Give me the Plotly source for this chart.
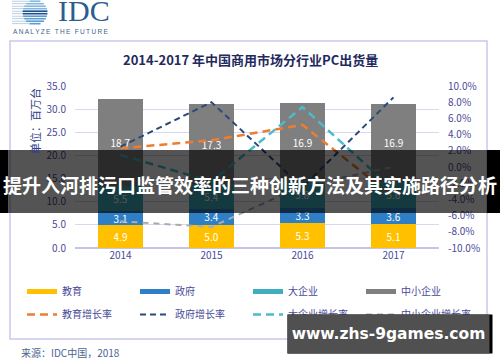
import math
import plotly.graph_objects as go

# ---------------- data ----------------
years = ['2014', '2015', '2016', '2017']
edu = [4.9, 5.0, 5.3, 5.1]
gov = [3.1, 3.4, 3.3, 3.6]
large = [5.5, 5.4, 5.8, 5.6]
sme = [18.7, 17.3, 16.9, 16.9]

edu_growth = [2.3, 3.3, 5.2, -3.7]
gov_growth = [2.5, 8.0, -2.5, 8.6]
large_growth = [1.5, -1.8, 7.4, -2.8]
sme_growth = [-6.7, -7.4, -2.3, 0.0]

left_tick_vals = [0, 5, 10, 15, 20, 25, 30, 35]
right_tick_vals = [10, 8, 6, 4, 2, 0, -2, -4, -6, -8, -10]
right_tick_labels = ['10.0%', '8.0%', '6.0%', '4.0%', '2.0%', '0.0%',
                     '-2.0%', '-4.0%', '-6.0%', '-8.0%', '-10.0%']

bar_names = ['教育', '政府', '大企业', '中小企业']
line_names = ['教育增长率', '政府增长率', '大企业增长率', '中小企业增长率']

# ---------------- style ----------------
W, H = 500, 362
L, R, T, B = 75, 61, 86, 114
PW, PH = W - L - R, H - T - B
PLOT_BOTTOM = H - B

def PX(x):
    return (x - L) / PW

def PY(y):
    return (PLOT_BOTTOM - y) / PH

FONT = 'Noto Sans CJK SC'
TICK_COLOR = '#4A4A9A'
bar_colors = ['#FFC000', '#2E7FC6', '#3FAFC0', '#7F7F7F']
line_colors = ['#ED7D31', '#2B4A7C', '#4BBCCB', '#ABABAB']
line_dash = ['8px,5px', '6px,4px', '8px,5px', '6px,5px']
line_width = [2.5, 2, 2.5, 2]

fig = go.Figure()

for name, vals, col in zip(bar_names, [edu, gov, large, sme], bar_colors):
    fig.add_trace(go.Bar(
        x=years, y=vals, name=name, marker=dict(color=col, line=dict(width=0)),
        texttemplate='%{y:.1f}', textposition='inside', insidetextanchor='middle',
        textangle=0, constraintext='none',
        textfont=dict(color='white', size=10, family=FONT),
        showlegend=False, hoverinfo='skip'))

legend_ids = ['legend', 'legend2', 'legend3', 'legend4']

# legend swatches for bars (row 1)
for i, (name, col) in enumerate(zip(bar_names, bar_colors)):
    fig.add_trace(go.Scatter(
        x=[None], y=[None], mode='lines', name=name,
        line=dict(color=col, width=5), legend=legend_ids[i],
        legendgroup='a%d' % i, showlegend=True, hoverinfo='skip'))

# growth lines (row 2)
for i, (name, vals) in enumerate(zip(line_names, [edu_growth, gov_growth, large_growth, sme_growth])):
    fig.add_trace(go.Scatter(
        x=years, y=vals, yaxis='y2', mode='lines', name=name,
        line=dict(color=line_colors[i], width=line_width[i], dash=line_dash[i]),
        legend=legend_ids[i], legendgroup='b%d' % i, hoverinfo='skip'))

legend_base = dict(orientation='v', xanchor='left', yanchor='top',
                   y=PY(277), tracegroupgap=4, itemwidth=30,
                   bgcolor='rgba(0,0,0,0)', borderwidth=0,
                   font=dict(family=FONT, size=10, color=TICK_COLOR))
legends = {}
for i, lid in enumerate(legend_ids):
    d = dict(legend_base)
    d['x'] = PX(22 + 113 * i)
    legends[lid] = d

shapes = []
# chart frame
shapes.append(dict(type='rect', xref='paper', yref='paper',
                   x0=PX(10), x1=PX(487), y0=PY(339), y1=PY(41),
                   line=dict(color='#C9C9EE', width=1.5), layer='below'))

# IDC globe logo (decorative stripes)
cx, cy, r = 35.0, 12.5, 12.5
for k in range(10):
    yy = 1.2 + k * 2.5
    dy = yy - cy
    half = math.sqrt(max(r * r - dy * dy, 0))
    if 4 <= k <= 5:
        col = '#1E4F8E'
    elif k < 4:
        col = '#86B7DE'
    else:
        col = '#5E9CD2'
    shapes.append(dict(type='rect', xref='paper', yref='paper',
                       x0=PX(cx - half), x1=PX(cx + half),
                       y0=PY(yy + 0.8), y1=PY(yy - 0.8),
                       fillcolor=col, line=dict(width=0), layer='above'))
    shapes.append(dict(type='rect', xref='paper', yref='paper',
                       x0=PX(12), x1=PX(cx - half),
                       y0=PY(yy + 0.4), y1=PY(yy - 0.4),
                       fillcolor='#A9C3DA', line=dict(width=0), layer='above'))

# banner overlay
shapes.append(dict(type='rect', xref='paper', yref='paper',
                   x0=PX(8), x1=PX(487), y0=PY(213), y1=PY(150),
                   fillcolor='rgba(0,0,0,0.67)', line=dict(width=0), layer='above'))
shapes.append(dict(type='rect', xref='paper', yref='paper',
                   x0=PX(0), x1=PX(8), y0=PY(213), y1=PY(150),
                   fillcolor='#000000', line=dict(width=0), layer='above'))
shapes.append(dict(type='rect', xref='paper', yref='paper',
                   x0=PX(487), x1=PX(500), y0=PY(213), y1=PY(150),
                   fillcolor='#000000', line=dict(width=0), layer='above'))

annotations = [
    dict(text='<b>2014-2017 年中国商用市场分行业PC出货量</b>', x=PX(250), y=PY(60),
         xref='paper', yref='paper', xanchor='center', yanchor='middle', showarrow=False,
         font=dict(family=FONT, size=13, color='#1F2A5E')),
    dict(text='单位：百万台', x=PX(35), y=PY(121), xref='paper', yref='paper',
         xanchor='center', yanchor='middle', textangle=-90, showarrow=False,
         font=dict(family=FONT, size=11, color='#2F3C8C')),
    dict(text='来源：IDC中国，2018', x=PX(19), y=PY(352), xref='paper', yref='paper',
         xanchor='left', yanchor='middle', showarrow=False,
         font=dict(family=FONT, size=10, color='#4A6490')),
    dict(text='IDC', x=PX(56), y=PY(11), xref='paper', yref='paper',
         xanchor='left', yanchor='middle', showarrow=False,
         font=dict(family='Liberation Serif', size=30, color='#2C5D8F')),
    dict(text='\u2009'.join('ANALYZE THE FUTURE'), x=PX(11), y=PY(31.5), xref='paper', yref='paper',
         xanchor='left', yanchor='middle', showarrow=False,
         font=dict(family='Liberation Sans', size=6.5, color='#3C6288')),
    dict(text='<b>提升入河排污口监管效率的三种创新方法及其实施路径分析</b>', x=PX(250), y=PY(184),
         xref='paper', yref='paper', xanchor='center', yanchor='middle', showarrow=False,
         font=dict(family=FONT, size=19, color='white')),
    dict(text=' ', x=PX(287), y=PY(334), xref='paper', yref='paper',
         xanchor='left', yanchor='middle', showarrow=False, width=204, height=38,
         borderpad=0, bgcolor='#000000', font=dict(size=10)),
    dict(text='<b>www.zhs-9games.com</b>', x=PX(287), y=PY(334), xref='paper', yref='paper',
         xanchor='left', yanchor='middle', showarrow=False, width=201, height=38,
         borderpad=0, bgcolor='#505050',
         font=dict(family='DejaVu Sans', size=15.5, color='white')),
]

fig.update_layout(
    width=W, height=H, autosize=False,
    margin=dict(l=L, r=R, t=T, b=B, autoexpand=False),
    paper_bgcolor='white', plot_bgcolor='white',
    barmode='stack', bargap=0.5,
    xaxis=dict(type='category', showgrid=False, showline=False, zeroline=False,
               tickfont=dict(family=FONT, size=10, color=TICK_COLOR), ticks=''),
    yaxis=dict(range=[0, 35], tickvals=left_tick_vals, tickformat='.1f',
               showgrid=True, gridcolor='#D8D8F4', gridwidth=1,
               zeroline=True, zerolinecolor='#C4C4EA', zerolinewidth=1.5,
               showline=False, ticks='', ticklabelstandoff=8,
               tickfont=dict(family=FONT, size=10, color=TICK_COLOR)),
    yaxis2=dict(range=[-10, 10], overlaying='y', side='right',
                tickvals=right_tick_vals, ticktext=right_tick_labels,
                showgrid=False, zeroline=False, showline=False, ticks='',
                ticklabelstandoff=8,
                tickfont=dict(family=FONT, size=10, color=TICK_COLOR)),
    shapes=shapes, annotations=annotations,
    showlegend=True,
    **legends,
)

fig.write_html('out.html', config={'displayModeBar': False},
               post_script="document.body.style.margin='0';document.body.style.overflow='hidden';")
